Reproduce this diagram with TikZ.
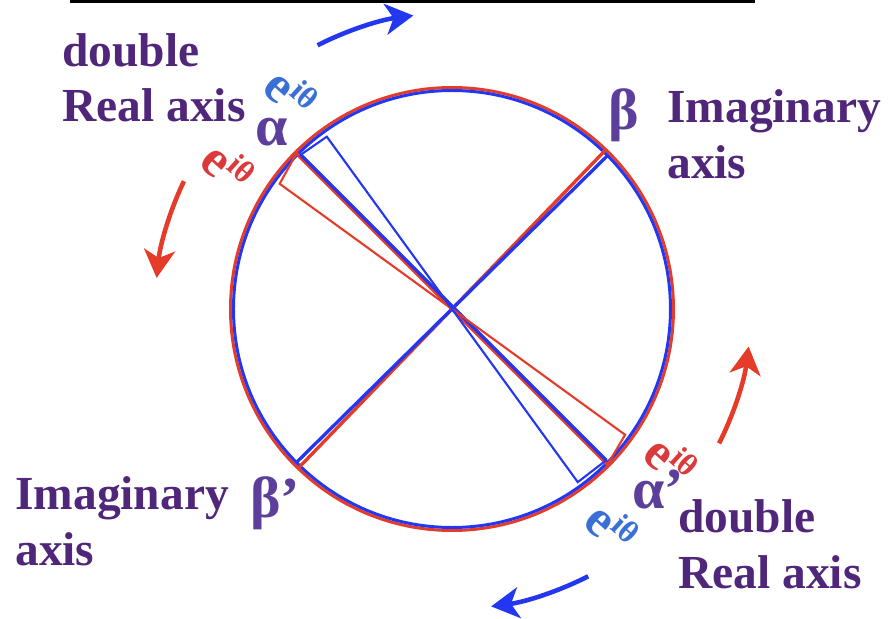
\documentclass[tikz,border=0pt]{standalone}
\usepackage{fontspec}
\setmainfont{Liberation Serif}
\usetikzlibrary{arrows.meta,positioning,calc}
\definecolor{redline}{HTML}{E43C28}
\definecolor{blueline}{HTML}{2337F0}
\definecolor{redtxt}{HTML}{DC3A3A}
\definecolor{bluetxt}{HTML}{3A70D6}
\definecolor{ink}{HTML}{50267A}
\definecolor{greek}{HTML}{5C3E9B}
\newcommand{\lblsize}{\fontsize{27}{31.5}\selectfont\bfseries}
\newcommand{\grksize}{\fontsize{33}{36}\selectfont\bfseries}
\newcommand{\eith}{e\raisebox{.3em}{\fontsize{18}{18}\selectfont iθ}}

\begin{document}
\begin{tikzpicture}[
  x=0.02cm, y=0.02cm,
  circ/.style={line width=1.7pt},
  ax/.style={line width=1.9pt, line cap=round},
  tri/.style={line width=1.2pt, line join=miter},
  turn/.style={line width=2.6pt, -{Stealth[length=0.56cm, width=0.62cm, inset=0.16cm]}},
  lbl/.style={text=ink, font=\lblsize, align=left, inner sep=0pt, anchor=base west},
  grk/.style={text=greek, font=\grksize, inner sep=0pt, anchor=base west},
  eph/.style={font=\fontsize{30}{30}\selectfont\bfseries, inner sep=0pt, rotate=-42},
]
\useasboundingbox (-452,-310) rectangle (438,309);

% ============================================================ TOP RULE
\coordinate (ruleL) at (-382,307.3);
\coordinate (ruleR) at (303,307.3);
\draw[line width=2pt] (ruleL) -- (ruleR);

% ============================================================ CIRCLES
\coordinate (O) at (0,0);
\draw[circ, redline] (O) circle[radius=221.5];
\draw[circ, blueline] (O) circle[radius=218.5];

% ============================================================ AXES
% beta axis, red turned a little against blue
\coordinate (betaR) at (46:220);
\coordinate (betaRP) at (226:220);
\coordinate (betaB) at (44.6:218);
\coordinate (betaBP) at (224.6:218);
\draw[ax, redline] (betaRP) -- (betaR);
\draw[ax, blueline] (betaBP) -- (betaB);

% alpha axis (double real axis)
\coordinate (alphaR) at (135:220);
\coordinate (alphaRP) at (-45:220);
\coordinate (alphaB) at ($(135:216)+(45:2.2)$);
\coordinate (alphaBP) at ($(-45:216)+(45:2.2)$);
\draw[ax, redline] (alphaRP) -- (alphaR);
\draw[ax, blueline] (alphaBP) -- (alphaB);

% turned copies of the alpha axis
\coordinate (rotR) at (144:213);
\coordinate (rotRP) at (-36:214);
\coordinate (rotB) at (126:213);
\coordinate (rotBP) at (-54:214);
\draw[tri, redline] (alphaR) -- (rotR) -- (rotRP) -- (alphaRP);
\draw[tri, blueline] (alphaB) -- (rotB) -- (rotBP) -- (alphaBP);

% ============================================================ TURNING ARROWS
\coordinate (tb) at (117:296);
\draw[turn, blueline] (tb) arc[start angle=117, end angle=97.5, radius=296];
\coordinate (bb) at (-63:300);
\draw[turn, blueline] (bb) arc[start angle=-63, end angle=-82.5, radius=300];
\coordinate (lr) at (154.5:297);
\draw[turn, redline] (lr) arc[start angle=154.5, end angle=174, radius=297];
\coordinate (rr) at (-26.7:299);
\draw[turn, redline] (rr) arc[start angle=-26.7, end angle=-7.2, radius=299];

% ============================================================ LABELS
% base of a two-line node sits on its last line
\node[lbl] (realTL) at (-390,187) {double\\Real axis};
\node[lbl] (imagTR) at (215,131) {Imaginary\\axis};
\node[lbl] (imagBL) at (-437,-256) {Imaginary\\axis};
\node[lbl] (realBR) at (226,-279) {double\\Real axis};

\node[grk] (al) at (-197,163) {α};
\node[grk] (be) at (156,179) {β};
\node[grk] (beP) at (-202,-208) {β’};
\node[grk] (alP) at (180,-199) {α’};

\node[eph, text=bluetxt] (eTLb) at (-161,216) {\eith};
\node[eph, text=redtxt] (eTLr) at (-224,142) {\eith};
\node[eph, text=redtxt] (eBRr) at (219,-151) {\eith};
\node[eph, text=bluetxt] (eBRb) at (160,-218) {\eith};

\end{tikzpicture}
\end{document}
